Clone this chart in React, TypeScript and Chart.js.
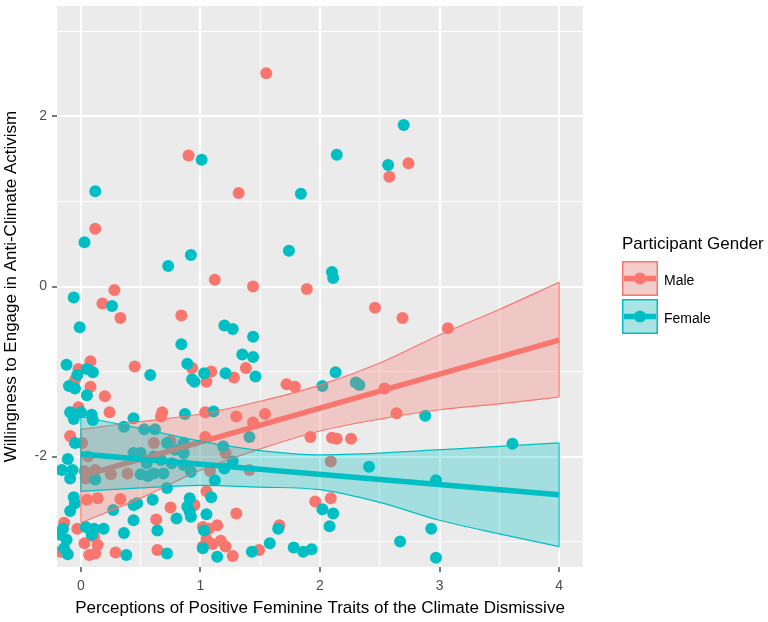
import React, { useEffect, useRef } from 'react';
import { Chart, registerables } from 'chart.js';

Chart.register(...registerables);

// ---- data ----
const maleX = [1.55, 0.90, 1.32, 0.12, 1.12, 1.44, 1.89, 0.28, 2.58, 2.74, 2.46, 2.69, 3.07, 0.18, 0.33, 0.84, 0.08, 0.45, -0.02, -0.05, 0.08, 0.20, -0.02, 0.24, 0.93, 1.09, 1.05, 1.28, 1.38, 1.72, 1.79, 0.68, 0.67, 1.04, 1.30, 1.44, 1.54, 2.54, 2.64, 1.92, 2.10, 2.14, 2.26, 2.09, 2.09, 1.96, -0.09, 0.01, 0.03, 0.06, 0.04, 0.12, 0.25, 0.39, 0.05, 0.14, 0.33, -0.14, -0.03, 0.11, -0.17, 0.03, 0.14, 0.07, 0.12, 0.29, 1.04, 0.61, 0.75, 1.08, 1.05, 0.75, 0.95, 0.63, 1.02, 1.07, 1.14, 1.05, 1.10, 1.17, 1.21, 1.02, 1.27, 0.64, 1.21, 1.41, 1.30, 1.66, 1.49];
const maleY = [2.51, 1.54, 1.10, 0.68, 0.08, 0.00, -0.03, -0.04, 1.29, 1.45, -0.25, -0.37, -0.49, -0.20, -0.37, -0.34, -0.88, -0.94, -0.97, -1.10, -1.18, -1.29, -1.42, -1.48, -0.96, -1.00, -1.12, -1.07, -0.96, -1.15, -1.18, -1.48, -1.53, -1.48, -1.53, -1.60, -1.50, -1.20, -1.49, -1.77, -1.78, -1.79, -1.79, -2.06, -2.49, -2.53, -1.76, -1.84, -2.17, -2.00, -2.26, -2.16, -2.21, -2.20, -2.51, -2.49, -2.50, -2.78, -2.85, -2.94, -3.12, -3.02, -3.04, -3.16, -3.14, -3.13, -1.77, -1.84, -1.82, -2.17, -2.41, -2.60, -2.57, -2.74, -2.83, -2.85, -2.81, -2.97, -3.03, -2.99, -3.06, -3.06, -3.17, -3.10, -1.96, -2.16, -2.67, -2.81, -3.10];

const femaleX = [1.01, 0.12, 1.84, 0.03, 1.74, 0.92, 0.73, 2.10, 2.11, -0.06, 2.70, 2.14, 2.57, 0.26, -0.01, -0.12, 0.05, 0.10, -0.03, -0.10, -0.05, 0.05, -0.09, -0.06, 0.00, 0.09, 0.10, 0.44, 0.58, 0.84, 1.20, 1.27, 1.44, 1.35, 1.44, 1.46, 0.89, 0.93, 0.95, 1.03, 1.21, 0.87, 1.11, 2.13, 2.02, 2.30, 2.33, 2.88, 3.61, 2.41, 2.97, 2.02, 2.11, 2.08, 2.93, 2.67, 1.86, 1.93, 2.97, -0.05, -0.11, -0.16, -0.07, -0.09, 0.12, 0.44, 0.36, -0.06, -0.05, -0.09, 0.27, 0.44, 0.44, -0.15, 0.04, 0.11, 0.19, 0.09, 0.36, -0.17, -0.12, -0.14, -0.11, 0.38, 0.53, 0.62, 0.72, 0.86, 0.79, 0.86, 0.50, 0.61, 0.67, 0.47, 0.55, 0.76, 0.86, 0.50, 0.56, 0.61, 0.69, 0.92, 1.12, 0.72, 1.09, 0.47, 0.60, 0.91, 0.89, 0.91, 0.92, 0.80, 1.05, 0.64, 1.03, 1.02, 1.14, 0.72, 1.41, 1.19, 1.27, 1.20, 1.65, 1.58, 1.43, 1.78];
const femaleY = [1.49, 1.12, 1.09, 0.52, 0.42, 0.37, 0.24, 0.17, 0.10, -0.13, 1.90, 1.55, 1.43, -0.23, -0.48, -0.92, -0.97, -1.01, -1.04, -1.17, -1.20, -1.28, -1.48, -1.56, -1.48, -1.51, -1.57, -1.55, -1.04, -0.68, -0.46, -0.50, -0.59, -0.80, -0.83, -1.06, -0.91, -1.09, -1.12, -1.02, -1.02, -1.50, -1.47, -1.01, -1.17, -1.13, -1.16, -1.52, -1.85, -2.12, -2.28, -2.62, -2.67, -2.82, -2.85, -3.00, -3.12, -3.09, -3.19, -1.84, -2.03, -2.16, -2.16, -2.26, -2.27, -1.96, -1.65, -2.48, -2.55, -2.64, -2.63, -2.57, -2.75, -2.85, -2.83, -2.85, -2.85, -2.92, -2.90, -2.92, -2.98, -3.08, -3.15, -3.16, -1.68, -1.68, -1.84, -1.84, -1.92, -1.96, -1.96, -2.00, -2.04, -2.00, -2.08, -2.08, -2.10, -2.21, -2.23, -2.20, -2.20, -2.18, -2.28, -2.37, -2.48, -2.55, -2.51, -2.49, -2.59, -2.65, -2.71, -2.73, -2.68, -2.87, -2.87, -3.08, -3.18, -3.14, -1.77, -1.88, -2.06, -2.14, -2.85, -3.02, -3.12, -3.07];

const bandX = [0, 0.5, 1, 1.5, 2, 2.5, 3, 3.5, 4];
const maleLower = [-2.78, -2.49, -2.16, -1.91, -1.70, -1.56, -1.45, -1.38, -1.30];
const maleUpper = [-1.68, -1.59, -1.50, -1.35, -1.16, -0.90, -0.57, -0.27, 0.05];
const femaleLower = [-2.41, -2.37, -2.34, -2.36, -2.39, -2.54, -2.75, -2.91, -3.06];
const femaleUpper = [-1.53, -1.67, -1.82, -1.93, -1.98, -1.96, -1.92, -1.88, -1.84];

const fitX = [0, 4];
const maleFit = [-2.23, -0.63];
const femaleFit = [-1.97, -2.45];

const xGrid = [0, 0.5, 1, 1.5, 2, 2.5, 3, 3.5, 4];
const xLabelled = [0, 1, 2, 3, 4];
const yGrid = [-3, -2, -1, 0, 1, 2, 3];
const yLabelled = [-2, 0, 2];

const seriesNames = ['Male', 'Female'];
const legendTitle = 'Participant Gender';
const xTitle = 'Perceptions of Positive Feminine Traits of the Climate Dismissive';
const yTitle = 'Willingness to Engage in Anti-Climate Activism';

// ---- styles ----
const RED = '#F8766D';
const CYAN = '#00BFC4';
const RED_FILL = 'rgba(248,118,109,0.3)';
const CYAN_FILL = 'rgba(0,191,196,0.3)';
const FONT = '"Liberation Sans", Arial, Helvetica, sans-serif';

const pts = (xs: number[], ys: number[]) => xs.map((x, i) => ({ x, y: ys[i] }));

const panelBg = {
  id: 'panelBg',
  beforeDraw(chart: any) {
    const { ctx, chartArea } = chart;
    ctx.save();
    ctx.fillStyle = '#EBEBEB';
    ctx.fillRect(chartArea.left, chartArea.top, chartArea.right - chartArea.left, chartArea.bottom - chartArea.top);
    ctx.restore();
  },
};

const ggLegend = {
  id: 'ggLegend',
  afterDraw(chart: any) {
    const { ctx } = chart;
    ctx.save();
    ctx.fillStyle = '#000';
    ctx.textAlign = 'left';
    ctx.textBaseline = 'middle';
    ctx.font = `17px ${FONT}`;
    ctx.fillText(legendTitle, 622, 244);
    const keys = [
      { label: seriesNames[0], color: RED, fill: RED_FILL, top: 261 },
      { label: seriesNames[1], color: CYAN, fill: CYAN_FILL, top: 299 },
    ];
    const kx = 622, kw = 36, kh = 35;
    keys.forEach((k) => {
      ctx.fillStyle = '#F2F2F2';
      ctx.fillRect(kx, k.top, kw, kh);
      ctx.fillStyle = k.fill;
      ctx.fillRect(kx, k.top, kw, kh);
      ctx.strokeStyle = k.color;
      ctx.lineWidth = 1.5;
      ctx.strokeRect(kx + 0.75, k.top + 0.75, kw - 1.5, kh - 1.5);
      const cy = k.top + kh / 2;
      ctx.beginPath();
      ctx.moveTo(kx + 2, cy);
      ctx.lineTo(kx + kw - 2, cy);
      ctx.lineWidth = 5.5;
      ctx.stroke();
      ctx.beginPath();
      ctx.fillStyle = k.color;
      ctx.arc(kx + kw / 2, cy, 6, 0, Math.PI * 2);
      ctx.fill();
      ctx.fillStyle = '#000';
      ctx.font = `14px ${FONT}`;
      ctx.fillText(k.label, 664, cy + 2.5);
    });
    ctx.restore();
  },
};

export default function App() {
  const ref = useRef<HTMLCanvasElement | null>(null);

  useEffect(() => {
    if (!ref.current) return;
    const lineDs = (data: any[], color: string, width: number, order: number, extra: any = {}) => ({
      type: 'line',
      data,
      borderColor: color,
      borderWidth: width,
      pointRadius: 0,
      fill: false,
      order,
      ...extra,
    });
    const curve = { tension: 0.4, cubicInterpolationMode: 'monotone' };
    const edge = (xv: number, lo: number, hi: number) => [{ x: xv, y: lo }, { x: xv, y: hi }];
    const last = bandX.length - 1;

    const datasets: any[] = [
      lineDs(pts(fitX, femaleFit), CYAN, 5.5, 1),
      lineDs(pts(bandX, femaleUpper), CYAN, 1.2, 2, curve),
      lineDs(pts(bandX, femaleLower), CYAN, 1.2, 3, { ...curve, fill: 1, backgroundColor: CYAN_FILL }),
      lineDs(edge(bandX[0], femaleLower[0], femaleUpper[0]), CYAN, 1.2, 2),
      lineDs(edge(bandX[last], femaleLower[last], femaleUpper[last]), CYAN, 1.2, 2),
      lineDs(pts(fitX, maleFit), RED, 5.5, 4),
      lineDs(pts(bandX, maleUpper), RED, 1.2, 5, curve),
      lineDs(pts(bandX, maleLower), RED, 1.2, 6, { ...curve, fill: 6, backgroundColor: RED_FILL }),
      lineDs(edge(bandX[0], maleLower[0], maleUpper[0]), RED, 1.2, 5),
      lineDs(edge(bandX[last], maleLower[last], maleUpper[last]), RED, 1.2, 5),
      {
        type: 'scatter',
        data: pts(femaleX, femaleY),
        backgroundColor: CYAN,
        borderWidth: 0,
        pointRadius: 6,
        order: 8,
      },
      {
        type: 'scatter',
        data: pts(maleX, maleY),
        backgroundColor: RED,
        borderWidth: 0,
        pointRadius: 6,
        order: 9,
      },
    ];

    const tickFont = { family: FONT, size: 14 };
    const titleFont = { family: FONT, size: 17 };

    const chart = new Chart(ref.current, {
      type: 'scatter',
      data: { datasets },
      options: {
        animation: false,
        responsive: false,
        devicePixelRatio: 1,
        events: [],
        layout: { padding: { top: 6, right: 185, left: 0, bottom: 0 } },
        plugins: { legend: { display: false }, tooltip: { enabled: false } },
        scales: {
          x: {
            type: 'linear',
            min: -0.2,
            max: 4.2,
            afterBuildTicks: (s: any) => {
              s.ticks = xGrid.map((v) => ({ value: v }));
            },
            afterFit: (s: any) => {
              s.height = 55;
              s.paddingLeft = 0;
              s.paddingRight = 0;
            },
            border: { display: false },
            grid: {
              color: '#FFFFFF',
              lineWidth: (c: any) => (xLabelled.includes(c.tick?.value) ? 2 : 1),
              tickColor: (c: any) => (xLabelled.includes(c.tick?.value) ? '#333333' : 'rgba(0,0,0,0)'),
              tickLength: 5,
              tickWidth: 1.3,
            },
            ticks: {
              autoSkip: false,
              maxRotation: 0,
              padding: 6,
              color: '#4D4D4D',
              font: tickFont,
              callback: (v: any) => (xLabelled.includes(Number(v)) ? String(v) : ''),
            },
            title: {
              display: true,
              text: xTitle,
              color: '#000',
              font: titleFont,
              padding: { top: 0, bottom: 3 },
            },
          },
          y: {
            type: 'linear',
            min: -3.3,
            max: 3.3,
            afterBuildTicks: (s: any) => {
              s.ticks = yGrid.map((v) => ({ value: v }));
            },
            afterFit: (s: any) => {
              s.width = 57;
              s.paddingTop = 0;
              s.paddingBottom = 0;
            },
            border: { display: false },
            grid: {
              color: '#FFFFFF',
              lineWidth: (c: any) => (yLabelled.includes(c.tick?.value) ? 2 : 1),
              tickColor: (c: any) => (yLabelled.includes(c.tick?.value) ? '#333333' : 'rgba(0,0,0,0)'),
              tickLength: 5,
              tickWidth: 1.3,
            },
            ticks: {
              autoSkip: false,
              padding: 5,
              color: '#4D4D4D',
              font: tickFont,
              callback: (v: any) => (yLabelled.includes(Number(v)) ? String(v) : ''),
            },
            title: {
              display: true,
              text: yTitle,
              color: '#000',
              font: titleFont,
              padding: { top: 1.3, bottom: 0 },
            },
          },
        },
      } as any,
      plugins: [panelBg, ggLegend],
    } as any);

    return () => chart.destroy();
  }, []);

  return (
    <div style={{ position: 'absolute', left: 0, top: 0, width: 768, height: 622, background: '#fff' }}>
      <canvas ref={ref} width={768} height={622} style={{ display: 'block' }} />
    </div>
  );
}
